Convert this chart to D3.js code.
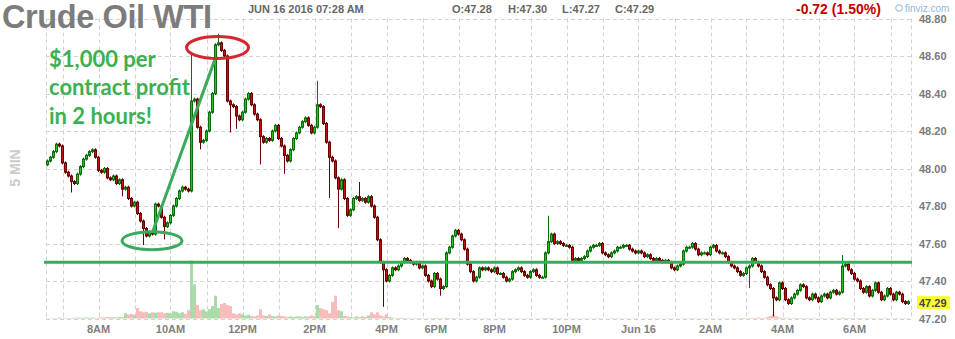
<!DOCTYPE html>
<html>
<head>
<meta charset="utf-8">
<script src="https://cdn.jsdelivr.net/npm/d3@7"></script>
<style>
  body { margin: 0; background: #fff; }
  svg { display: block; font-family: "Liberation Sans", Arial, sans-serif; }
</style>
</head>
<body>
<svg id="chart" width="955" height="339"></svg>
<script>
// 5 min bars, Jun 15 2016 06:35 -> Jun 16 07:30 (market shut 17:00-18:00)
let closes = [
  48.04,48.06,48.09,48.13,48.12,48.03,47.98,47.96,47.93,47.92,47.97,48.01,
  48.05,48.07,48.09,48.10,48.06,47.99,47.98,48.00,47.95,47.94,47.96,47.92,
  47.94,47.89,47.90,47.84,47.80,47.82,47.76,47.72,47.68,47.64,47.66,47.65,
  47.81,47.80,47.74,47.69,47.71,47.75,47.80,47.84,47.88,47.90,47.89,47.88,
  48.36,48.37,48.22,48.14,48.15,48.20,48.30,48.40,48.66,48.67,48.63,48.60,
  48.36,48.34,48.33,48.28,48.26,48.30,48.37,48.40,48.34,48.29,48.26,48.17,
  48.14,48.16,48.15,48.20,48.23,48.16,48.12,48.07,48.04,48.10,48.16,48.19,
  48.22,48.25,48.27,48.23,48.19,48.22,48.34,48.33,48.24,48.14,48.06,48.04,
  47.95,47.89,47.94,47.84,47.75,47.78,47.84,47.85,47.83,47.84,47.82,47.85,
  47.80,47.74,47.62,47.50,47.46,47.40,47.43,47.47,47.46,47.48,47.50,47.52,
  47.51,47.50,47.49,47.50,47.47,47.48,47.43,47.40,47.37,47.44,47.41,47.36,
  47.37,47.55,47.58,47.64,47.67,47.65,47.62,47.57,47.49,47.45,47.40,47.42,
  47.47,47.46,47.47,47.46,47.45,47.47,47.44,47.44,47.42,47.40,47.41,47.45,
  47.46,47.47,47.45,47.43,47.42,47.45,47.46,47.43,47.42,47.42,47.55,47.61,
  47.65,47.60,47.61,47.60,47.59,47.59,47.58,47.51,47.52,47.51,47.52,47.53,
  47.56,47.58,47.59,47.59,47.60,47.55,47.54,47.53,47.55,47.56,47.58,47.58,
  47.59,47.59,47.57,47.56,47.55,47.56,47.55,47.53,47.54,47.52,47.51,47.52,
  47.51,47.50,47.51,47.50,47.47,47.46,47.48,47.49,47.56,47.58,47.58,47.60,
  47.57,47.54,47.55,47.55,47.54,47.58,47.59,47.56,47.55,47.55,47.53,47.50,
  47.48,47.47,47.45,47.43,47.44,47.47,47.48,47.52,47.50,47.48,47.45,47.42,
  47.38,47.36,47.31,47.30,47.39,47.36,47.30,47.28,47.31,47.33,47.35,47.38,
  47.37,47.31,47.30,47.33,47.31,47.29,47.32,47.33,47.31,47.34,47.35,47.33,
  47.34,47.48,47.49,47.46,47.44,47.41,47.40,47.36,47.34,47.37,47.32,47.35,
  47.39,47.34,47.30,47.32,47.36,47.33,47.30,47.34,47.33,47.29,47.28,47.29
]
let firstOpen = 48.02

// [bar, high, low] for the wicks that stick out of the bodies
let wicks = [
  [8,null,47.88],[25,null,47.86],[32,null,47.60],[39,null,47.63],[48,48.60,null],
  [51,null,48.11],[57,48.71,null],[61,null,48.20],[63,null,48.22],[71,null,48.03],
  [79,null,47.98],[90,48.46,null],[94,null,47.85],[97,null,47.69],[104,47.92,null],
  [112,null,47.27],[131,null,47.33],[167,47.74,null],[234,null,47.37],
  [242,null,47.22],[265,47.53,null]
]

let volumes = [
  30,20,30,40,80,60,50,40,60,80,90,70,
  80,100,80,90,60,80,120,100,150,130,120,110,
  150,130,500,400,450,350,1000,700,600,650,500,600,
  550,600,600,500,550,500,700,650,500,600,450,800,
  5600,3300,1300,800,900,700,900,1200,2200,1000,1400,1500,
  1300,1200,500,400,500,400,300,350,250,200,300,900,
  300,250,400,250,200,300,250,200,150,200,150,200,
  200,150,200,200,300,200,1300,1000,900,800,500,1600,
  2200,800,700,250,200,150,100,200,150,200,150,300,
  600,400,600,300,200,400,150,80,60,50,60,40,
  50,40,30,40,50,40,30,30,40,50,60,40,
  30,60,50,40,30,40,30,30,20,30,40,30,
  20,30,40,30,20,20,30,40,30,20,30,30,
  20,30,20,30,40,30,20,30,20,30,60,50,
  40,30,20,30,20,20,30,20,30,20,20,30,
  20,30,20,30,20,30,20,20,30,20,30,20,
  20,30,20,20,30,20,20,30,20,20,30,20,
  30,20,20,30,20,30,20,20,30,20,30,40,
  30,20,30,20,20,30,20,20,30,20,30,30,
  30,30,40,50,60,30,40,40,60,100,50,60,
  150,250,400,200,100,80,60,50,40,60,50,40,
  40,50,40,30,40,30,40,30,30,40,30,40,
  40,80,60,50,40,40,50,40,30,40,30,40,
  30,40,30,30,40,30,30,40,30,30,40,30
]

let priceTicks = [47.20, 47.40, 47.60, 47.80, 48.00, 48.20, 48.40, 48.60, 48.80]
let levelLine = 47.50
let header = {date: 'JUN 16 2016 07:28 AM', o: 47.28, h: 47.30, l: 47.27, c: 47.29, change: -0.72, pct: 1.50}

// bar times
let times = []
let t = new Date(2016, 5, 15, 6, 35)
while (times.length < closes.length) {
  if (!(t.getHours() == 17)) times.push(new Date(t))
  t = new Date(t.getTime() + 5 * 60000)
}

let bars = closes.map(function(c, i) {
  let o = i == 0 ? firstOpen : closes[i - 1]
  let b = {i: i, o: o, c: c, h: Math.max(o, c), l: Math.min(o, c), v: volumes[i], t: times[i]}
  b.reopen = i > 0 && (times[i] - times[i - 1]) > 5 * 60000
  return b
})
wicks.forEach(function(w) {
  if (w[1] != null) bars[w[0]].h = w[1]
  if (w[2] != null) bars[w[0]].l = w[2]
})

let svg = d3.select('#chart')
let plotL = 46, plotR = 910, plotT = 18.5, plotB = 318.5

let x = d3.scaleLinear().domain([0, bars.length]).range([plotL, plotR])
let y = d3.scaleLinear().domain([47.2, 48.8]).range([plotB, plotT])
let yv = d3.scaleLinear().domain([0, d3.max(volumes)]).range([plotB, plotB - 58])
let cx = function(i) { return x(i + 0.5) }

let gridColor = '#d2d2d2'

// hourly grid
let hourBars = bars.filter(function(b) { return b.t.getMinutes() == 0 })
svg.append('g').selectAll('line')
  .data(hourBars)
  .enter()
  .append('line')
  .attr('x1', function(d) { return Math.round(cx(d.i)) + 0.5 })
  .attr('x2', function(d) { return Math.round(cx(d.i)) + 0.5 })
  .attr('y1', plotT)
  .attr('y2', plotB)
  .attr('stroke', gridColor)
  .attr('stroke-dasharray', '4,3')

svg.append('g').selectAll('line')
  .data(priceTicks)
  .enter()
  .append('line')
  .attr('x1', plotL)
  .attr('x2', plotR + 1)
  .attr('y1', function(d) { return Math.round(y(d)) + 0.5 })
  .attr('y2', function(d) { return Math.round(y(d)) + 0.5 })
  .attr('stroke', gridColor)
  .attr('stroke-dasharray', '4,3')

svg.append('g').selectAll('line')
  .data([plotL, plotR + 1])
  .enter()
  .append('line')
  .attr('x1', function(d) { return d + 0.5 })
  .attr('x2', function(d) { return d + 0.5 })
  .attr('y1', plotT)
  .attr('y2', plotB)
  .attr('stroke', gridColor)
  .attr('stroke-dasharray', '4,3')

// volume
svg.append('g').selectAll('rect')
  .data(bars)
  .enter()
  .append('rect')
  .attr('x', function(d) { return x(d.i) })
  .attr('width', 3)
  .attr('y', function(d) { return yv(d.v) })
  .attr('height', function(d) { return plotB - yv(d.v) })
  .attr('fill', function(d) { return d.c >= d.o ? '#a9dca9' : '#f8bcbc' })

// candles
let up = function(d) { return d.c >= d.o }
let candles = svg.append('g').selectAll('g')
  .data(bars)
  .enter()
  .append('g')

candles.append('line')
  .attr('x1', function(d) { return cx(d.i) })
  .attr('x2', function(d) { return cx(d.i) })
  .attr('y1', function(d) { return y(d.h) - 1.5 })
  .attr('y2', function(d) { return y(d.l) + 1.5 })
  .attr('stroke', function(d) { return up(d) ? '#0b6e0b' : '#6a0000' })
  .attr('stroke-width', 1)

candles.append('rect')
  .attr('x', function(d) { return x(d.i) + 0.5 })
  .attr('width', 2)
  .attr('y', function(d) { return y(Math.max(d.o, d.c)) })
  .attr('height', function(d) { return Math.max(1, Math.abs(y(d.o) - y(d.c))) })
  .attr('fill', function(d) { return up(d) ? '#22c422' : '#c41212' })
  .attr('stroke', function(d) { return up(d) ? '#0b6e0b' : '#6a0000' })
  .attr('stroke-width', 1)

// 47.50 level
svg.append('line')
  .attr('x1', x(0) - 2)
  .attr('x2', x(bars.length) + 2)
  .attr('y1', y(levelLine))
  .attr('y2', y(levelLine))
  .attr('stroke', '#3aaa5c')
  .attr('stroke-width', 3)

// annotation: low to high
let lowBar = 35, highBar = 56
svg.append('line')
  .attr('x1', cx(lowBar))
  .attr('y1', y(47.66))
  .attr('x2', cx(highBar))
  .attr('y2', y(48.59))
  .attr('stroke', '#3aaa5c')
  .attr('stroke-width', 3)

svg.append('ellipse')
  .attr('cx', cx(lowBar) - 0.5)
  .attr('cy', y(47.615))
  .attr('rx', 30)
  .attr('ry', 9)
  .attr('fill', 'none')
  .attr('stroke', '#3aaa5c')
  .attr('stroke-width', 3)

svg.append('ellipse')
  .attr('cx', cx(highBar) + 2)
  .attr('cy', y(48.645))
  .attr('rx', 31)
  .attr('ry', 11)
  .attr('fill', 'none')
  .attr('stroke', '#d8262e')
  .attr('stroke-width', 3)

let note = svg.append('text')
  .attr('font-family', 'Lato, "Open Sans", sans-serif')
  .attr('font-weight', 'bold')
  .attr('font-size', 22)
  .attr('fill', '#3cb052')
;['$1,000 per', 'contract profit', 'in 2 hours!'].forEach(function(s, k) {
  note.append('tspan').attr('x', 49).attr('y', 67 + k * 28.3).text(s)
})

// price axis
let yAxis = svg.append('g')
  .attr('transform', 'translate(' + (plotR + 9) + ',0)')
  .call(d3.axisRight(y).tickValues(priceTicks).tickSize(0).tickPadding(0).tickFormat(d3.format('.2f')))
yAxis.select('.domain').remove()
yAxis.selectAll('text')
  .attr('font-family', '"Liberation Sans", Arial, sans-serif')
  .attr('font-size', 11)
  .attr('font-weight', 'bold')
  .attr('fill', '#7a7a7a')

// last price tag
let last = bars[bars.length - 1]
svg.append('rect')
  .attr('x', 917)
  .attr('y', y(last.c) - 5.5)
  .attr('width', 33)
  .attr('height', 13)
  .attr('fill', '#ffff30')
svg.append('text')
  .attr('x', 919)
  .attr('y', y(last.c) + 5)
  .attr('font-size', 11)
  .attr('font-weight', 'bold')
  .attr('fill', '#444')
  .text(d3.format('.2f')(last.c))

// time axis, a label after the session break starts at its gridline
let fmtHour = function(d) {
  if (d.getHours() == 0) return d3.timeFormat('%b %d')(d)
  return d3.timeFormat('%-I%p')(d)
}
svg.append('g').selectAll('text')
  .data(hourBars.filter(function(b) { return b.t.getHours() % 2 == 0 }))
  .enter()
  .append('text')
  .attr('x', function(d) { return d.reopen ? cx(d.i) + 2 : cx(d.i) })
  .attr('y', 333)
  .attr('text-anchor', function(d) { return d.reopen ? 'start' : 'middle' })
  .attr('font-size', 11)
  .attr('font-weight', 'bold')
  .attr('fill', '#7f7f7f')
  .text(function(d) { return fmtHour(d.t) })

// header
svg.append('text')
  .attr('x', 2).attr('y', 28)
  .attr('font-size', 32.5).attr('font-weight', 'bold')
  .attr('textLength', 210).attr('lengthAdjust', 'spacing')
  .attr('fill', '#7c7c7c')
  .text('Crude Oil WTI')

svg.append('text')
  .attr('x', 248).attr('y', 13)
  .attr('font-size', 11).attr('font-weight', 'bold')
  .attr('fill', '#666')
  .text(header.date)

let ohlc = [['O', header.o, 452], ['H', header.h, 508], ['L', header.l, 562], ['C', header.c, 615]]
svg.append('g').selectAll('text')
  .data(ohlc)
  .enter()
  .append('text')
  .attr('x', function(d) { return d[2] })
  .attr('y', 13)
  .attr('font-size', 11).attr('font-weight', 'bold')
  .attr('fill', '#666')
  .text(function(d) { return d[0] + ':' + d[1].toFixed(2) })

svg.append('text')
  .attr('x', 796).attr('y', 14)
  .attr('font-size', 14).attr('font-weight', 'bold')
  .attr('fill', '#c00000')
  .text(header.change.toFixed(2) + ' (' + header.pct.toFixed(2) + '%)')

svg.append('circle')
  .attr('cx', 899).attr('cy', 8).attr('r', 3.3)
  .attr('fill', 'none').attr('stroke', '#8bb8dc').attr('stroke-width', 1)
svg.append('text')
  .attr('x', 905).attr('y', 12)
  .attr('font-size', 10)
  .attr('fill', '#8bb8dc')
  .text('finviz.com')

svg.append('text')
  .attr('transform', 'translate(20,168) rotate(-90)')
  .attr('text-anchor', 'middle')
  .attr('font-size', 14).attr('font-weight', 'bold')
  .attr('fill', '#cccccc')
  .text('5 MIN')
</script>
</body>
</html>
